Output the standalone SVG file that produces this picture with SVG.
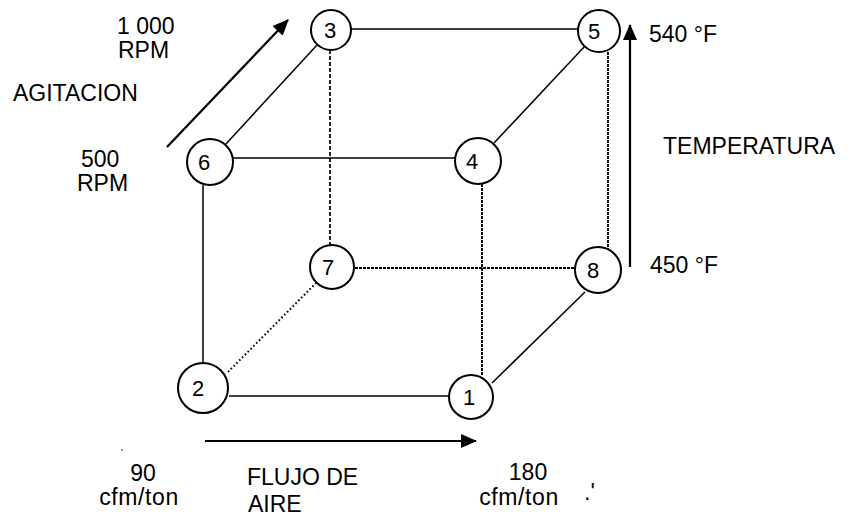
<svg xmlns="http://www.w3.org/2000/svg" width="848" height="517" viewBox="0 0 848 517">
  <style>
    text { font-family: "Liberation Sans", Arial, sans-serif; font-size: 23px; fill: #000; }
    .node circle { fill: #fff; stroke: #000; stroke-width: 2; }
    .node text { text-anchor: middle; font-size: 22px; }
    .edge { stroke: #000; stroke-width: 1.5; fill: none; }
    .dash { stroke-dasharray: 4 2; stroke-width: 1.7; }
    .fine { stroke-dasharray: 3 1; stroke-width: 1.9; }
    .dot { stroke-dasharray: 1.6 2.4; stroke-width: 2; }
    .axis { stroke: #000; stroke-width: 2.2; fill: none; }
    .lbl { text-anchor: middle; }
  </style>
  <defs>
    <marker id="head" viewBox="0 0 16 14" refX="15" refY="7" markerWidth="16" markerHeight="14" markerUnits="userSpaceOnUse" orient="auto">
      <path d="M0,0 L16,7 L0,14 Z" fill="#000"/>
    </marker>
  </defs>

  <!-- cube edges -->
  <g id="connectors">
    <line class="edge" x1="351" y1="29" x2="578" y2="29"/>
    <line class="edge" x1="317" y1="45" x2="225" y2="145"/>
    <line class="edge dash" x1="330" y1="50" x2="330" y2="246"/>
    <line class="edge" x1="233" y1="158" x2="455" y2="158"/>
    <line class="edge" x1="585" y1="46" x2="494" y2="143"/>
    <line class="edge fine" x1="608" y1="52" x2="608" y2="249"/>
    <line class="edge fine" x1="482" y1="184" x2="482" y2="376"/>
    <line class="edge" x1="203" y1="185" x2="203" y2="362"/>
    <line class="edge fine" x1="355" y1="268" x2="575" y2="268"/>
    <line class="edge dot" x1="228" y1="372" x2="317" y2="282"/>
    <line class="edge" x1="229" y1="396" x2="449" y2="396"/>
    <line class="edge" x1="492" y1="383" x2="585" y2="292"/>
  </g>

  <!-- vertices -->
  <g id="n1" class="node"><circle cx="471" cy="397" r="22"/><text x="469" y="405">1</text></g>
  <g id="n2" class="node"><circle cx="203" cy="388" r="25"/><text x="198" y="396">2</text></g>
  <g id="n3" class="node"><circle cx="331" cy="30" r="20"/><text x="330" y="38">3</text></g>
  <g id="n4" class="node"><circle cx="478" cy="161" r="23"/><text x="472" y="169">4</text></g>
  <g id="n5" class="node"><circle cx="599" cy="31" r="21"/><text x="594" y="39">5</text></g>
  <g id="n6" class="node"><circle cx="210" cy="162" r="23"/><text x="204" y="170">6</text></g>
  <g id="n7" class="node"><circle cx="332" cy="267" r="22"/><text x="328" y="275">7</text></g>
  <g id="n8" class="node"><circle cx="598" cy="270" r="23"/><text x="593" y="278">8</text></g>

  <!-- factor axes -->
  <g id="axes">
    <line class="axis" x1="167" y1="147" x2="288" y2="20" marker-end="url(#head)"/>
    <line class="axis" x1="630" y1="267" x2="630" y2="25" marker-end="url(#head)"/>
    <line class="axis" x1="205" y1="441" x2="476" y2="441" marker-end="url(#head)"/>
  </g>

  <!-- axis labels -->
  <g id="labels">
    <text x="117" y="34">1 000</text>
    <text x="118" y="58">RPM</text>
    <text x="13" y="101">AGITACION</text>
    <text x="81" y="167">500</text>
    <text x="77" y="191">RPM</text>
    <text x="649" y="42">540 °F</text>
    <text x="663" y="154">TEMPERATURA</text>
    <text x="650" y="273">450 °F</text>
    <text class="lbl" x="143" y="481">90</text>
    <text class="lbl" x="139" y="505" letter-spacing="0.6">cfm/ton</text>
    <text x="247" y="485">FLUJO DE</text>
    <text x="248" y="512">AIRE</text>
    <text class="lbl" x="528" y="480">180</text>
    <text class="lbl" x="519" y="505" letter-spacing="0.6">cfm/ton</text>
    <text x="584" y="500" font-size="14">.'</text>
    <circle cx="122" cy="450" r="0.8" fill="#000"/>
  </g>
</svg>
